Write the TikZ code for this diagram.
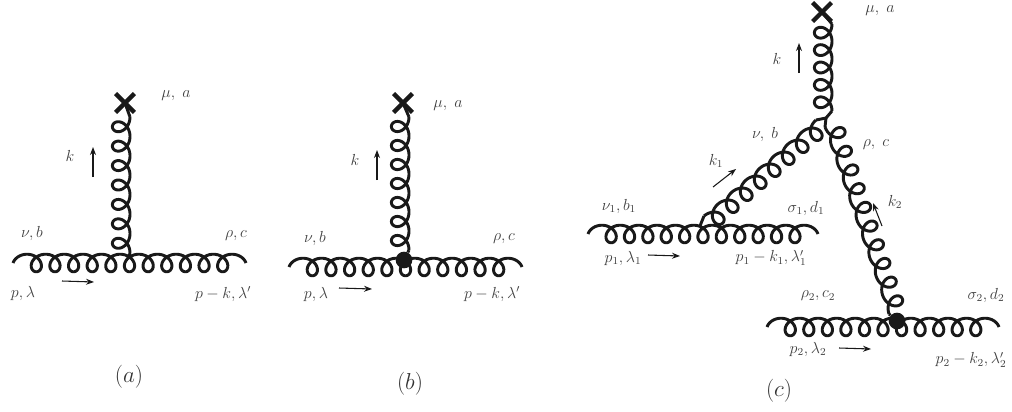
\documentclass[tikz,border=0pt]{standalone}
\usepackage{amsmath,amssymb}
\usetikzlibrary{arrows.meta,calc,shapes.misc}
\newcommand{\gluon}[4]{
  \draw[gluonline] let \p1=($(#2)-(#1)$), \p2=(#1), \n1={veclen(\x1,\y1)}, \n2={atan2(\y1,\x1)}, \n3={(\n1-2*7*sin(#4))/(#3+#4/180)} in
    plot[domain=-#4:360*#3+#4, samples=300, variable=\t]
    ({\x2+((\t+#4)/360*\n3+7*(sin(\t)+sin(#4)))*cos(\n2)-6.6*(cos(\t)-cos(#4))*sin(\n2)},
     {\y2+((\t+#4)/360*\n3+7*(sin(\t)+sin(#4)))*sin(\n2)+6.6*(cos(\t)-cos(#4))*cos(\n2)});
}

\begin{document}
\begin{tikzpicture}[
  x=0.75pt, y=-0.75pt,
  gluonline/.style={draw=black!90, line width=2.2pt, line join=round},
  mom/.style={-{Stealth[length=6pt,width=4.5pt]}, line width=0.8pt, draw=black!90},
  lab/.style={font=\fontsize{11.5}{13}\selectfont, text=black!75, inner sep=0pt},
  figcap/.style={font=\fontsize{19}{22}\selectfont, text=black!80, inner sep=0pt},
  xmark/.style={cross out, draw=black!90, line width=3.2pt, minimum size=11pt, inner sep=0pt},
  blob/.style={circle, fill=black!90, minimum size=12.5pt, inner sep=0pt}
]
\useasboundingbox (0,0) rectangle (1012,411);

\node[xmark] (xa) at (125,103) {};
\coordinate (al) at (13,263);
\coordinate (ar) at (246,263);
\coordinate (at) at (130,117);
\coordinate (av) at (130,253);
\coordinate (aj) at (129,257);
\gluon{al}{ar}{11}{90}
\gluon{at}{av}{7}{0}
\draw[gluonline] (xa.center) -- (at);
\draw[gluonline] (av) -- (aj);
\coordinate (ka1) at (93,177);
\coordinate (ka2) at (93,147);
\coordinate (pa1) at (62,281);
\coordinate (pa2) at (94,282);
\draw[mom] (ka1) -- (ka2);
\draw[mom] (pa1) -- (pa2);
\node[lab] (amu) at (176,96) {$\mu,\;a$};
\node[lab] (ak) at (70,156) {$k$};
\node[lab] (anu) at (32,233) {$\nu,b$};
\node[lab] (arho) at (236,236) {$\rho,c$};
\node[lab] (ap) at (23,293) {$p,\lambda$};
\node[lab] (apk) at (223,294) {$p-k,\lambda'$};
\node[figcap] (capa) at (129,377) {$(a)$};

\node[xmark] (xb) at (403,103) {};
\coordinate (bl) at (289,267);
\coordinate (br) at (522,267);
\coordinate (bt) at (409,117);
\coordinate (bv) at (409,250);
\gluon{bl}{br}{11}{90}
\gluon{bt}{bv}{7}{0}
\draw[gluonline] (xb.center) -- (bt);
\node[blob] (db) at (404,260) {};
\draw[gluonline] (bv) -- (db);
\coordinate (kb1) at (377,180);
\coordinate (kb2) at (377,150);
\coordinate (pb1) at (339,288);
\coordinate (pb2) at (372,289);
\draw[mom] (kb1) -- (kb2);
\draw[mom] (pb1) -- (pb2);
\node[lab] (bmu) at (448,106) {$\mu,\;a$};
\node[lab] (bk) at (355,160) {$k$};
\node[lab] (bnu) at (315,238) {$\nu,b$};
\node[lab] (brho) at (504,239) {$\rho,c$};
\node[lab] (bp) at (316,294) {$p,\lambda$};
\node[lab] (bpk) at (492,294) {$p-k,\lambda'$};
\node[figcap] (capb) at (410,384) {$(b)$};

\node[xmark] (xc) at (822,12) {};
\coordinate (cl) at (588,234);
\coordinate (cr) at (818,234);
\coordinate (ct) at (832,24);
\coordinate (cv) at (832,111);
\coordinate (cj) at (826,118);
\coordinate (c0) at (700,226);
\coordinate (c1) at (704,216);
\coordinate (c2) at (816,120);
\coordinate (c3) at (825,127);
\coordinate (c4) at (889,314);
\coordinate (dl) at (767,327);
\coordinate (dr) at (999,327);
\gluon{cl}{cr}{11}{90}
\gluon{ct}{cv}{5}{0}
\gluon{c1}{c2}{8}{0}
\gluon{c4}{c3}{10}{0}
\gluon{dl}{dr}{11}{90}
\draw[gluonline] (xc.center) -- (ct);
\draw[gluonline] (cv) -- (cj);
\draw[gluonline] (c0) -- (c1);
\draw[gluonline] (c2) -- (cj);
\draw[gluonline] (c3) -- (cj);
\node[blob] (dc) at (897,321) {};
\draw[gluonline] (c4) -- (dc);
\coordinate (kc1) at (799,73);
\coordinate (kc2) at (799,43);
\coordinate (kd1) at (713,187);
\coordinate (kd2) at (736,169);
\coordinate (ke1) at (882,226);
\coordinate (ke2) at (873,203);
\coordinate (pc1) at (648,255);
\coordinate (pc2) at (680,256);
\coordinate (pd1) at (839,348);
\coordinate (pd2) at (871,349);
\draw[mom] (kc1) -- (kc2);
\draw[mom] (kd1) -- (kd2);
\draw[mom] (ke1) -- (ke2);
\draw[mom] (pc1) -- (pc2);
\draw[mom] (pd1) -- (pd2);
\node[lab] (cmu) at (880,11) {$\mu,\;a$};
\node[lab] (ck) at (777,59) {$k$};
\node[lab] (cnu) at (765,134) {$\nu,\;b$};
\node[lab] (crho) at (876,145) {$\rho,\;c$};
\node[lab] (ck1) at (716,161) {$k_1$};
\node[lab] (ck2) at (895,202) {$k_2$};
\node[lab] (cnu1) at (619,206) {$\nu_1,b_1$};
\node[lab] (csig1) at (806,208) {$\sigma_1,d_1$};
\node[lab] (cp1) at (623,258) {$p_1,\lambda_1$};
\node[lab] (cpk1) at (771,258) {$p_1-k_1,\lambda_1'$};
\node[lab] (crho2) at (818,296) {$\rho_2,c_2$};
\node[lab] (csig2) at (986,295) {$\sigma_2,d_2$};
\node[lab] (cp2) at (808,349) {$p_2,\lambda_2$};
\node[lab] (cpk2) at (971,360) {$p_2-k_2,\lambda_2'$};
\node[figcap] (capc) at (779,391) {$(c)$};
\end{tikzpicture}
\end{document}
